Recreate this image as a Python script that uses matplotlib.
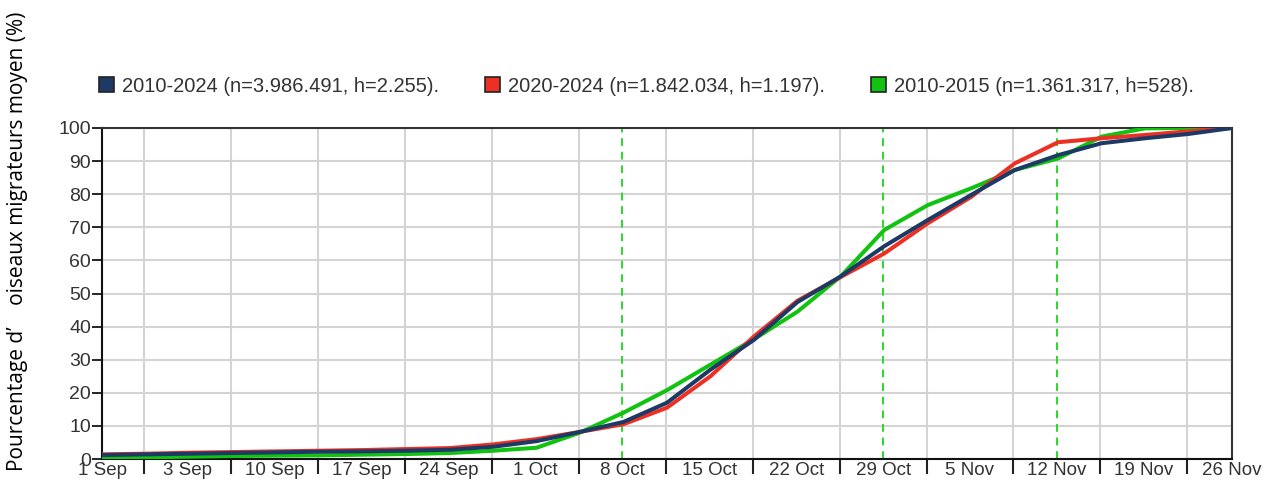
import matplotlib
matplotlib.use('Agg')
import matplotlib.pyplot as plt
from matplotlib.patches import Patch

# days since 1 Sep (read every half week)
days = [0, 3.5, 7, 10.5, 14, 17.5, 21, 24.5, 28, 31.5, 35, 38.5, 42, 45.5,
        49, 52.5, 56, 59.5, 63, 66.5, 70, 73.5, 77, 80.5, 84, 87.5, 91]

all_years = [1.2, 1.4, 1.6, 1.8, 2.0, 2.2, 2.3, 2.5, 2.8, 3.7, 5.4, 8.2, 11.2, 17.0,
             27.0, 36.0, 47.4, 55.2, 64.3, 72.2, 79.8, 87.3, 91.8, 95.4, 96.9, 98.2, 100]
recent = [1.4, 1.6, 1.9, 2.1, 2.3, 2.5, 2.7, 3.0, 3.3, 4.4, 6.0, 8.2, 10.5, 15.5,
          25.0, 37.0, 47.8, 55.0, 62.1, 71.2, 79.2, 89.3, 95.7, 96.9, 97.9, 99.0, 100]
early = [0.3, 0.5, 0.7, 0.9, 1.0, 1.1, 1.3, 1.5, 1.8, 2.5, 3.4, 8.0, 14.0, 20.8,
         28.5, 36.2, 44.5, 55.2, 69.2, 76.7, 81.8, 87.3, 90.8, 97.4, 99.9, 100, 100]

labels = ['2010-2024 (n=3.986.491, h=2.255).',
          '2020-2024 (n=1.842.034, h=1.197).',
          '2010-2015 (n=1.361.317, h=528).']
colors = ['#1d3a66', '#ec3024', '#11c211']

tick_labels = ['1 Sep', '3 Sep', '10 Sep', '17 Sep', '24 Sep', '1 Oct', '8 Oct',
               '15 Oct', '22 Oct', '29 Oct', '5 Nov', '12 Nov', '19 Nov', '26 Nov']
marked = ['8 Oct', '29 Oct', '12 Nov']

week_edges = [3.4 + 7 * k for k in range(13)]
label_pos = [0] + [e + 3.5 for e in week_edges[:-1]] + [91]

plt.rcParams['font.family'] = ['Liberation Sans', 'DejaVu Sans']
fig = plt.figure(figsize=(12.68, 4.82), dpi=100)
ax = fig.add_axes([102 / 1268, 1 - 459 / 482, 1130 / 1268, 331 / 482])

for y, c in zip([early, recent, all_years], [colors[2], colors[1], colors[0]]):
    ax.plot(days, y, color=c, lw=2.9, solid_joinstyle='round', solid_capstyle='round', zorder=3)

for m in marked:
    ax.axvline(label_pos[tick_labels.index(m)], color='#2bd82b', lw=1.4,
               ls=(0, (4, 3)), zorder=2)

ax.set_xlim(0, 91)
ax.set_ylim(0, 100)
ax.set_yticks(range(0, 101, 10))
ax.set_xticks(week_edges)
ax.set_xticklabels([])
ax.set_xticks(label_pos, minor=True)
ax.set_xticklabels(tick_labels, minor=True)
ax.tick_params(axis='x', which='major', length=11, width=1.5, direction='out', color='#222222')
ax.tick_params(axis='x', which='minor', length=0, pad=2, labelsize=13.5, labelcolor='#333333')
ax.tick_params(axis='y', length=7, width=1.2, labelsize=14, labelcolor='#333333', pad=1)
ax.grid(True, which='major', color='#d4d4d4', lw=1.5, zorder=0)
ax.set_axisbelow(True)
for s in ax.spines.values():
    s.set_linewidth(1.5)
    s.set_color('#333333')
ax.spines['left'].set_color('#111111')
ax.spines['bottom'].set_color('#111111')

handles = [Patch(facecolor=c, edgecolor='#222222', lw=1.2) for c in colors]
fig.legend(handles, labels, ncol=3, loc='center left', bbox_to_anchor=(89 / 1268, 1 - 86 / 482),
           frameon=False, fontsize=14.5, handlelength=0.75, handleheight=0.75, borderpad=0,
           handletextpad=0.38, columnspacing=2.3, labelcolor='#333333')

fig.text(18 / 1268, 1 - 241 / 482, 'Pourcentage d’    oiseaux migrateurs moyen (%)',
         rotation=90, ha='center', va='center', fontsize=15, family=['Open Sans', 'DejaVu Sans'])

fig.savefig('out.png', dpi=100)
